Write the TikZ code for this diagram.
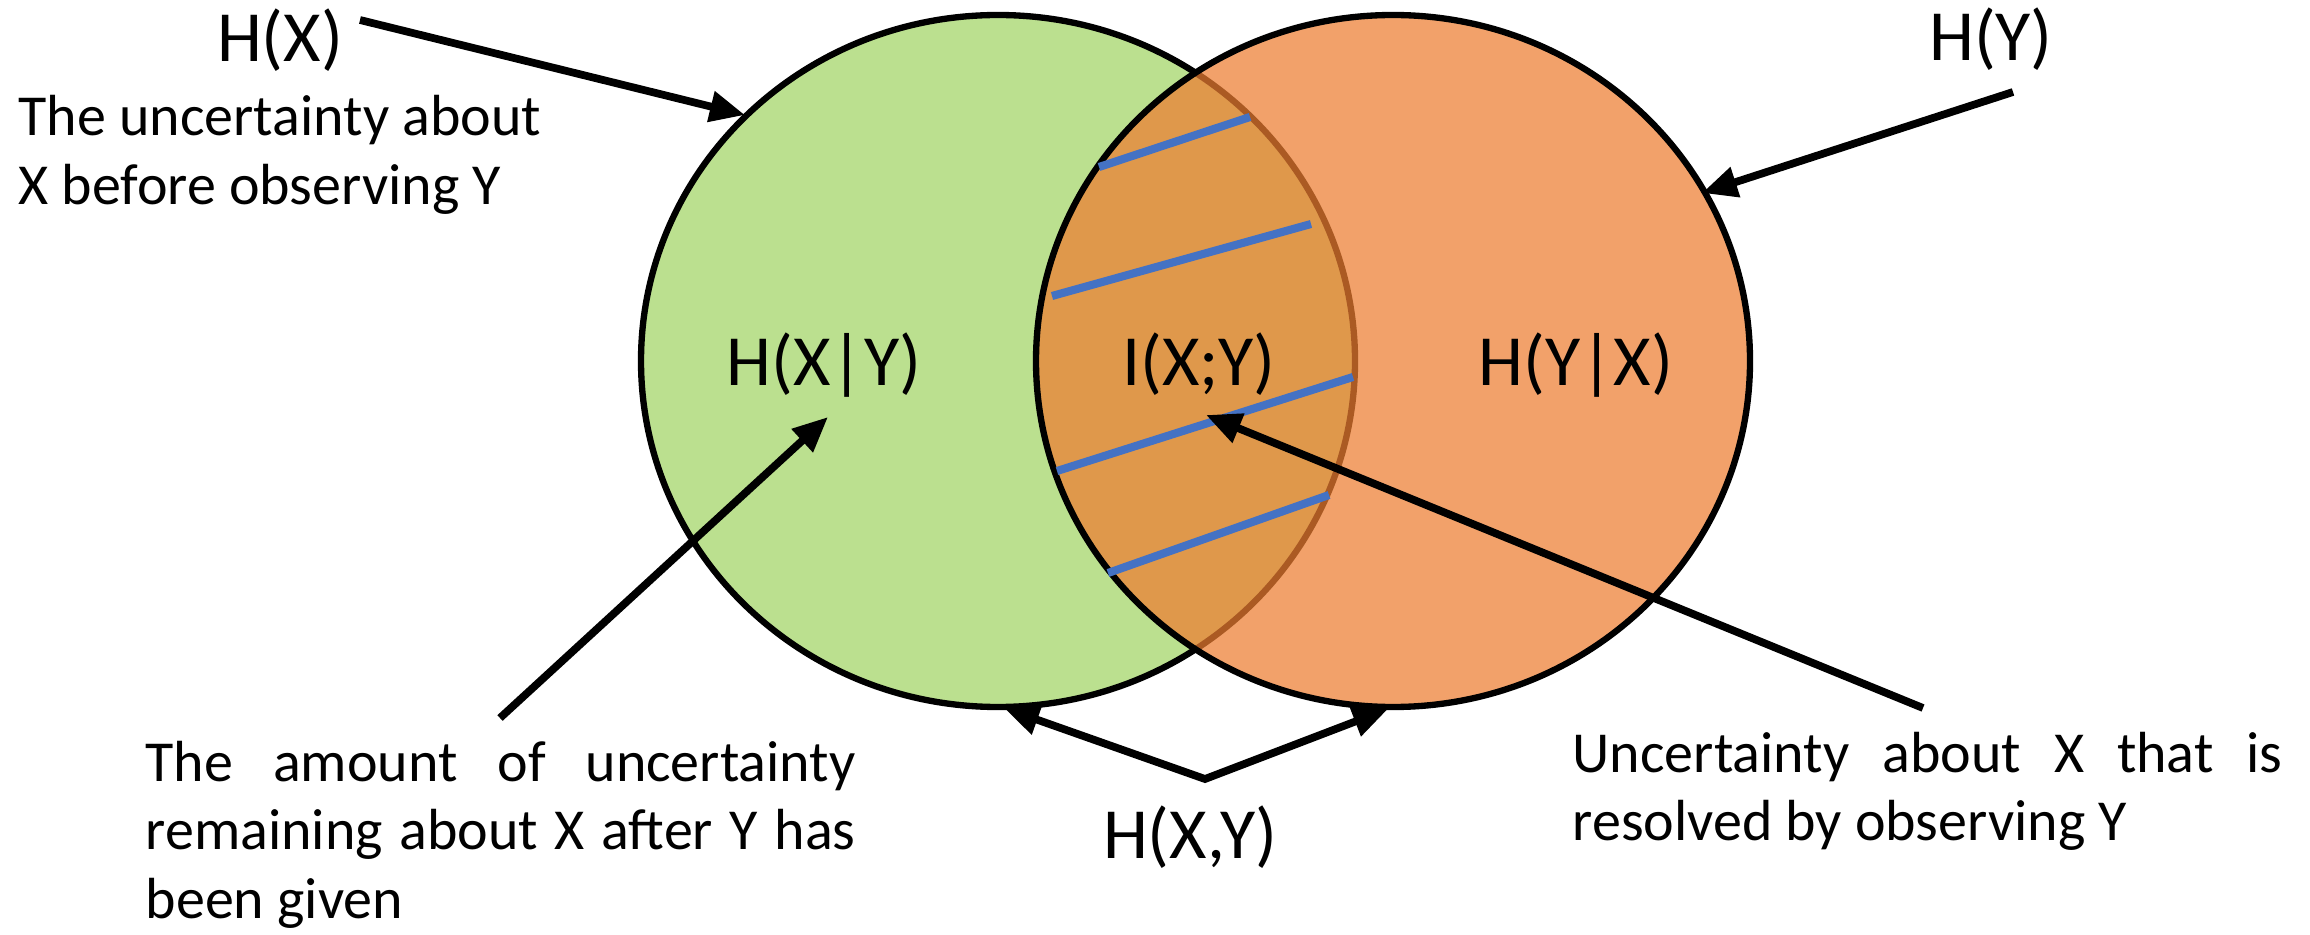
\documentclass[tikz,border=0pt]{standalone}
\usepackage{fontspec}
\setmainfont{Carlito}
\usetikzlibrary{arrows.meta}
\definecolor{vgreen}{RGB}{187,224,143}
\definecolor{vorange}{RGB}{237,125,49}
\definecolor{vblue}{RGB}{68,114,196}
\begin{document}
\begin{tikzpicture}[x=0.1mm,y=-0.1mm,
  big/.style={font=\fontsize{20.5}{24}\selectfont, inner sep=0, anchor=base},
  note/.style={font=\fontsize{16.5}{19.6}\selectfont, inner sep=0, anchor=base west},
  arr/.style={line width=2.2pt, -{Triangle[length=10pt,width=8.5pt]}},
  darr/.style={line width=2.2pt, {Triangle[length=10pt,width=8.5pt]}-{Triangle[length=10pt,width=8.5pt]}},
  hatch/.style={vblue, line width=2.3pt},
  outline/.style={line width=1.8pt}]
\useasboundingbox (0,0) rectangle (2310,935);
% circles
\fill[vgreen] (998,361) ellipse [x radius=357, y radius=346];
\draw[outline] (998,361) ellipse [x radius=357, y radius=346];
\fill[vorange, fill opacity=0.72] (1393,361) ellipse [x radius=357, y radius=346];
\draw[outline] (1393,361) ellipse [x radius=357, y radius=346];
% hatch
\draw[hatch] (1099,167) -- (1250,117);
\draw[hatch] (1052,296) -- (1311,224);
\draw[hatch] (1057,471) -- (1353,377);
\draw[hatch] (1108,573) -- (1329,495);
% labels
\node[big] (hx) at (280,62) {H(X)};
\node[big] (hy) at (1991,61) {H(Y)};
\node[big] (hxgy) at (824,386) {H(X|Y)};
\node[big] (ixy) at (1199,386) {I(X;Y)};
\node[big] (hygx) at (1576,386) {H(Y|X)};
\node[big] (hxy) at (1190,858) {H(X,Y)};
\node[note] (nhx) at (18,136) {\parbox[t]{220pt}{\raggedright The uncertainty about\\ X before observing Y}};
\node[note] (nhxgy) at (145,781) {\parbox[t]{202pt}{\makebox[\linewidth][s]{The amount of uncertainty}\\ \makebox[\linewidth][s]{remaining about X after Y has}\\ been given}};
\node[note] (nixy) at (1572,772) {\parbox[t]{202pt}{\makebox[\linewidth][s]{Uncertainty about X that is}\\ resolved by observing Y}};
% arrows
\coordinate (a1s) at (360,20); \coordinate (a1e) at (745,115);
\coordinate (a2s) at (2013,92); \coordinate (a2e) at (1702,193);
\coordinate (a3s) at (500,718); \coordinate (a3e) at (828,417);
\coordinate (a4s) at (1923,708); \coordinate (a4e) at (1206,415);
\coordinate (a5s) at (1205,779); \coordinate (a5l) at (1004,708); \coordinate (a5r) at (1388,709);
\draw[arr] (a1s) -- (a1e);
\draw[arr] (a2s) -- (a2e);
\draw[arr] (a3s) -- (a3e);
\draw[arr] (a4s) -- (a4e);
\draw[darr] (a5l) -- (a5s) -- (a5r);
\end{tikzpicture}
\end{document}
